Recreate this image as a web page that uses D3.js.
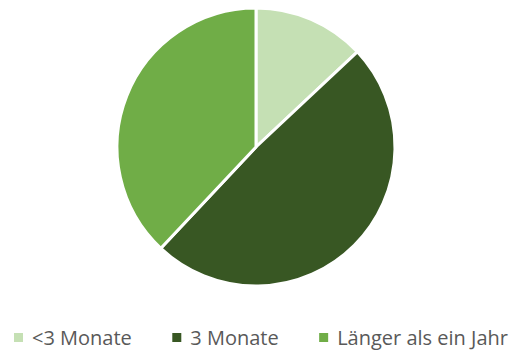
<!DOCTYPE html>
<html>
<head>
<meta charset="utf-8">
<script src="https://cdn.jsdelivr.net/npm/d3@7"></script>
<style>
  html, body { margin: 0; padding: 0; background: #fff; }
  svg { display: block; }
</style>
</head>
<body>
<svg id="chart" width="510" height="350"></svg>
<script>
// Duration categories and their shares (percent)
const categories = ["<3 Monate", "3 Monate", "Länger als ein Jahr"];
const values = [13, 49, 38];
const colors = ["#C5E0B4", "#385723", "#70AD47"];

const width = 510, height = 350;
const cx = 256, cy = 147, radius = 139;

const svg = d3.select("#chart");

const pie = d3.pie().sort(null).value(d => d.value);
const arc = d3.arc().innerRadius(0).outerRadius(radius);

const data = categories.map((c, i) => ({ name: c, value: values[i], color: colors[i] }));

svg.append("g")
  .attr("transform", `translate(${cx},${cy})`)
  .selectAll("path")
  .data(pie(data))
  .join("path")
  .attr("d", arc)
  .attr("fill", d => d.data.color)
  .attr("stroke", "#fff")
  .attr("stroke-width", 3)
  .attr("stroke-linejoin", "round");

// Legend row along the bottom
const fontSize = 20;
const legend = svg.append("g").attr("font-family", "'Open Sans', sans-serif")
  .attr("font-size", fontSize).attr("fill", "#595959");

const sw = 9, gapText = 9;
const baseline = 344.5;
const items = legend.selectAll("g").data(data).join("g");
items.append("rect").attr("y", -11.5).attr("width", sw).attr("height", sw).attr("fill", d => d.color);
items.append("text").attr("x", sw + gapText).attr("y", 0).text(d => d.name);

let widths = [];
items.each(function () { widths.push(this.querySelector("text").getComputedTextLength()); });
const total = d3.sum(widths, w => sw + gapText + w);
const left = 14, right = 508;
const gapItem = (right - left - total) / (widths.length - 1);
let x = left;
items.attr("transform", (d, i) => {
  const t = `translate(${x},${baseline})`;
  x += sw + gapText + widths[i] + gapItem;
  return t;
});
</script>
</body>
</html>
